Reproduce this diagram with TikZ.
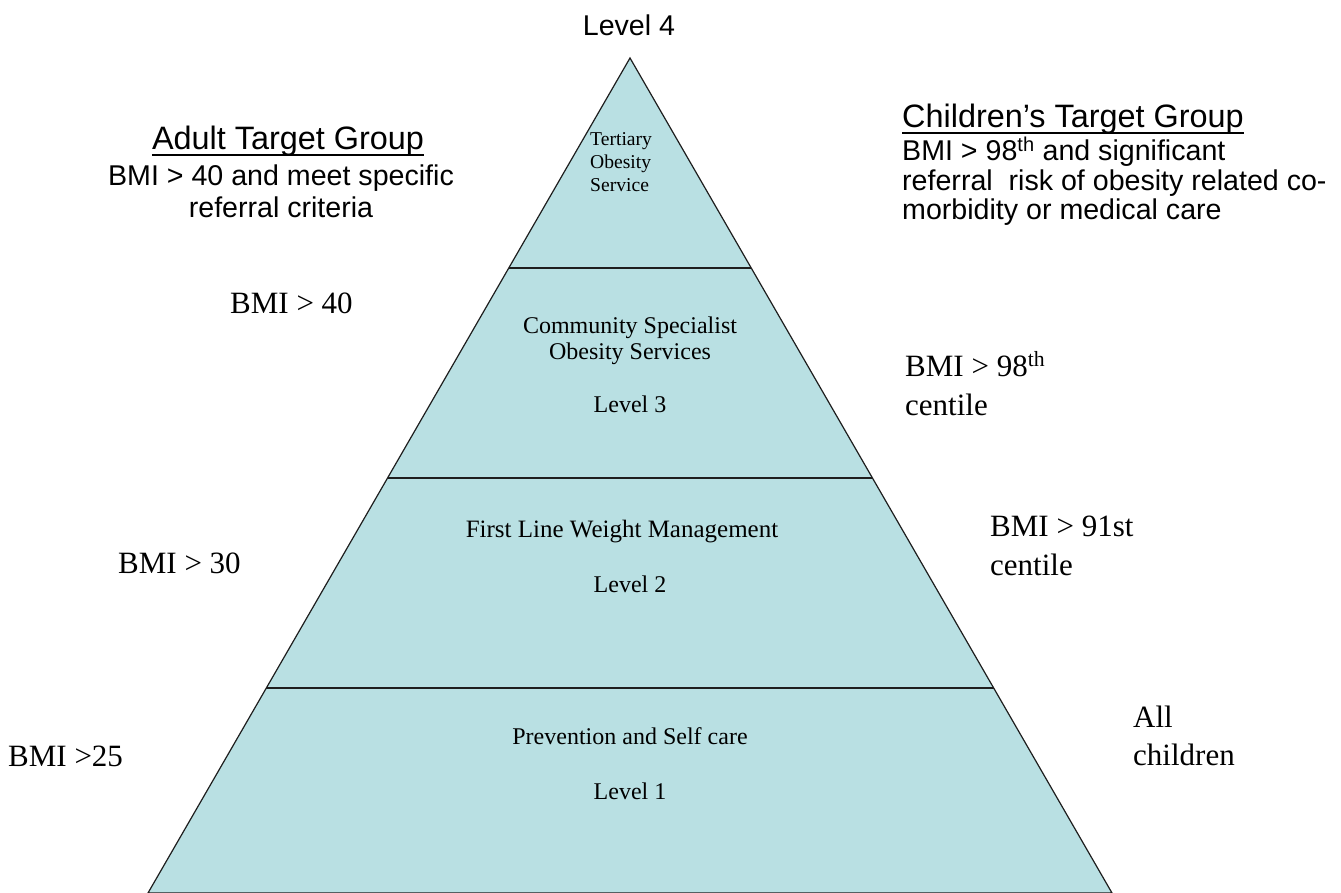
\documentclass[tikz,border=0pt]{standalone}
\usepackage{fontspec}
\setmainfont{Liberation Serif}
\newfontfamily\arialf{Liberation Sans}
\usetikzlibrary{calc}
\definecolor{pyrfill}{RGB}{185,224,227}
\definecolor{edgecol}{RGB}{30,30,30}
\begin{document}
\begin{tikzpicture}[x=1pt,y=-1pt,
  sanstxt/.style={font=\arialf\fontsize{28.6}{33}\selectfont, inner sep=0, anchor=base},
  headtxt/.style={font=\arialf\fontsize{32.4}{37}\selectfont, inner sep=0, anchor=base},
  sidetxt/.style={font=\fontsize{31}{36}\selectfont, inner sep=0, anchor=base west},
  intxt/.style={font=\fontsize{24}{28}\selectfont, inner sep=0, anchor=base},
  smalltxt/.style={font=\fontsize{19.6}{23}\selectfont, inner sep=0, anchor=base west},
  tier/.style={line width=2pt, draw=edgecol},
  uline/.style={line width=1.8pt}]
\useasboundingbox (0,0) rectangle (1341,893);
\clip (0,0) rectangle (1341,893);
\fill[white] (0,0) rectangle (1341,893);
% pyramid
\coordinate (apex) at (630,58);
\coordinate (bl) at (148,893);
\coordinate (br) at (1112,893);
\filldraw[fill=pyrfill, draw=edgecol, line width=1.2pt] (apex) -- (bl) -- (br) -- cycle;
\draw[tier] ($(apex)!0.2515!(bl)$) -- ($(apex)!0.2515!(br)$);
\draw[tier] ($(apex)!0.503!(bl)$) -- ($(apex)!0.503!(br)$);
\draw[tier] ($(apex)!0.7545!(bl)$) -- ($(apex)!0.7545!(br)$);
% top
\node[sanstxt] (lv4) at (629,36) {Level 4};
% adult group
\node[headtxt] (adt) at (288,150) {Adult Target Group};
\draw[uline] ([yshift=-5]adt.base west) -- ([yshift=-5]adt.base east);
\node[sanstxt] (ad1) at (281,186) {BMI > 40 and meet specific};
\node[sanstxt] (ad2) at (281,218) {referral criteria};
% children group
\node[headtxt, anchor=base west] (cht) at (902,128) {Children’s Target Group};
\draw[uline] ([yshift=-5]cht.base west) -- ([yshift=-5]cht.base east);
\node[sanstxt, anchor=base west] (ch1) at (902,161) {BMI > 98\textsuperscript{th} and significant};
\node[sanstxt, anchor=base west] (ch2) at (902,191) {referral\ \ risk of obesity related co-};
\node[sanstxt, anchor=base west] (ch3) at (902,220) {morbidity or medical care};
% inside pyramid
\node[smalltxt] (t1) at (590,146) {Tertiary};
\node[smalltxt] (t2) at (590,169) {Obesity};
\node[smalltxt] (t3) at (590,192) {Service};
\node[intxt] (c1) at (630,334) {Community Specialist};
\node[intxt] (c2) at (630,359) {Obesity Services};
\node[intxt] (c3) at (630,412) {Level 3};
\node[intxt, font=\fontsize{25}{29}\selectfont] (f1) at (622,537) {First Line Weight Management};
\node[intxt] (f2) at (630,592) {Level 2};
\node[intxt] (p1) at (630,744) {Prevention and Self care};
\node[intxt] (p2) at (630,799) {Level 1};
% side labels left
\node[sidetxt] (l40) at (230,313) {BMI > 40};
\node[sidetxt] (l30) at (118,573) {BMI > 30};
\node[sidetxt] (l25) at (8,766) {BMI >25};
% side labels right
\node[sidetxt] (r98a) at (905,376) {BMI > 98\textsuperscript{th}};
\node[sidetxt] (r98b) at (905,415) {centile};
\node[sidetxt] (r91a) at (990,536) {BMI > 91st};
\node[sidetxt] (r91b) at (990,575) {centile};
\node[sidetxt] (ra) at (1133,727) {All};
\node[sidetxt] (rb) at (1133,765) {children};
\end{tikzpicture}
\end{document}
